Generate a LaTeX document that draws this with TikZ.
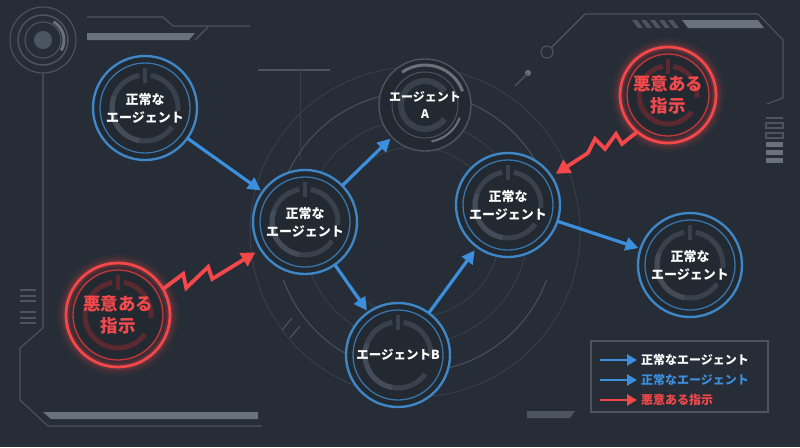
\documentclass[tikz,border=0pt]{standalone}
\usepackage{fontspec}
\setmainfont{Noto Sans CJK JP}
\usetikzlibrary{arrows.meta,calc}
\definecolor{bgc}{HTML}{262D36}
\definecolor{nodefill}{HTML}{222931}
\definecolor{ringblue}{HTML}{3E86C6}
\definecolor{ringblue2}{HTML}{3A74A8}
\definecolor{gaugec}{HTML}{39424C}
\definecolor{gaugel}{HTML}{434C57}
\definecolor{arrowblue}{HTML}{3C8FDD}
\definecolor{redc}{HTML}{F4474A}
\definecolor{redtext}{HTML}{F24A4C}
\definecolor{gaugered}{HTML}{5A2A30}
\definecolor{decoc}{HTML}{4B545F}
\definecolor{decolight}{HTML}{69727C}
\definecolor{faint}{HTML}{363E48}
\newcommand\ringBlue[2]{%
\begin{scope}[shift={(#1)}]
 \fill[nodefill] (0,0) circle[radius=#2];
 \draw[ringblue,line width=2.4pt] (0,0) circle[radius=#2];
 \draw[ringblue2,line width=1.3pt] (0,0) circle[radius={#2-7}];
 \draw[gaugec,line width=5pt] (35:{#2-19}) arc[start angle=35,end angle=260,radius={#2-19}];
 \draw[gaugel,line width=5pt] (100:{#2-19}) arc[start angle=100,end angle=200,radius={#2-19}];
 \draw[gaugec,line width=5pt] (280:{#2-19}) arc[start angle=280,end angle=365,radius={#2-19}];
 \draw[gaugec,line width=4pt] (270:{#2-27}) -- (270:{#2-12});
\end{scope}}
\newcommand\ringRed[2]{%
\begin{scope}[shift={(#1)}]
 \fill[nodefill] (0,0) circle[radius=#2];
 \foreach \w/\o in {18/0.05,12/0.09,7/0.15}
   \draw[redc,opacity=\o,line width=\w pt] (0,0) circle[radius=#2];
 \draw[redc,line width=2.8pt] (0,0) circle[radius=#2];
 \draw[redc!80!black,line width=1.3pt] (0,0) circle[radius={#2-7}];
 \draw[gaugered,line width=5pt] (35:{#2-19}) arc[start angle=35,end angle=260,radius={#2-19}];
 \draw[gaugered,line width=5pt] (280:{#2-19}) arc[start angle=280,end angle=365,radius={#2-19}];
 \draw[gaugered,line width=4pt] (270:{#2-27}) -- (270:{#2-12});
\end{scope}}
\tikzset{
 lbl/.style={circle,inner sep=0pt,align=center,text=white,font=\fontsize{13}{18}\selectfont\bfseries},
 rlbl/.style={circle,inner sep=0pt,align=center,text=redtext,font=\fontsize{17.5}{22}\selectfont\bfseries},
 barrow/.style={arrowblue,line width=3.2pt,-{Triangle[length=13pt,width=13pt]}},
 rarrow/.style={redc,line width=3.8pt,line join=miter,-{Triangle[length=14pt,width=15pt]}},
 deco/.style={decoc,line width=1.1pt},
 legtext/.style={anchor=west,inner sep=0pt,font=\fontsize{12}{14}\selectfont\bfseries}
}
\begin{document}
\begin{tikzpicture}[x=1pt,y=-1pt]
\fill[bgc] (0,0) rectangle (800,447);
\useasboundingbox (0,0) rectangle (800,447);
% background central rings
\begin{scope}[shift={(415,232)}]
 \draw[faint,line width=1pt] (0,0) circle[radius=85];
 \draw[faint,line width=1pt] (0,0) circle[radius=112];
 \draw[decoc,line width=0.9pt] (200:140) arc[start angle=200,end angle=330,radius=140];
 \draw[decoc,line width=0.9pt] (20:140) arc[start angle=20,end angle=160,radius=140];
 \draw[faint,line width=1pt] (0,0) circle[radius=165];
\end{scope}
\draw[deco] (258,70) -- (330,70);
\draw[faint,line width=1pt] (300,70) -- (300,160);
\draw[deco] (282,330) -- (292,318);
\draw[deco] (290,338) -- (300,326);
% top-left gauge
\begin{scope}[shift={(43,40)}]
 \draw[deco] (0,0) circle[radius=33];
 \draw[deco,line width=1.5pt] (0,0) circle[radius=25];
 \draw[decolight,line width=3pt] (-60:21) arc[start angle=-60,end angle=30,radius=21];
 \draw[deco] (0,0) circle[radius=18];
 \fill[decolight!120] (0,0) circle[radius=9];
\end{scope}
\draw[deco] (43,73) -- (43,328) -- (20,348) -- (20,400) -- (48,426) -- (262,426);
\fill[decolight] (43,412) -- (258,412) -- (258,419) -- (51,419) -- cycle;
\foreach \yy in {290,296,301,312,318,323} \draw[deco] (20,\yy) -- (36,\yy);
\draw[deco] (87,17) -- (163,17) -- (173,26) -- (250,26);
\fill[decolight] (87,33) -- (195,33) -- (189,40) -- (87,40) -- cycle;
\draw[deco] (195,40) -- (208,27);
% top-right frame
\draw[deco] (547,52) circle[radius=6];
\draw[deco] (551,48) -- (585,14) -- (758,14) -- (783,40) -- (783,98) -- (767,104);
\fill[decolight] (528,73) circle[radius=3];
\draw[deco] (528,73) -- (515,86);
\foreach \xx in {632,641,650,659,668}
  \fill[decoc] (\xx,20) -- (\xx+5,20) -- (\xx+11,28) -- (\xx+6,28) -- cycle;
\fill[decolight] (682,20) -- (758,20) -- (764,28) -- (688,28) -- cycle;
\draw[deco] (766,118) -- (783,118);
\draw[deco] (766,123) rectangle (783,128);
\draw[deco] (766,133) rectangle (783,138);
\foreach \yy in {142,150,158} \fill[decolight] (766,\yy) rectangle (783,\yy+5);
% bottom-right bar
\fill[decoc] (527,411) -- (575,411) -- (570,418) -- (527,418) -- cycle;
% nodes
\ringBlue{145,108}{52}
\ringBlue{305,222}{52}
\ringBlue{508,205}{52}
\ringBlue{690,265}{52}
\ringBlue{398,355}{52}
\ringRed{118,315}{52}
\ringRed{668,95}{48}
\begin{scope}[shift={(425,105)}]
 \fill[nodefill] (0,0) circle[radius=46];
 \draw[decoc,line width=1.4pt] (0,0) circle[radius=46];
 \draw[decoc,line width=1pt] (0,0) circle[radius=33];
 \draw[decolight,line width=3pt] (-125:40) arc[start angle=-125,end angle=-20,radius=40];
 \draw[decolight,line width=2pt] (20:37) arc[start angle=20,end angle=80,radius=37];
 \draw[gaugec,line width=6pt] (35:24) arc[start angle=35,end angle=325,radius=24];
\end{scope}
\node[lbl,minimum size=104pt] (n1) at (145,108) {正常な\\エージェント};
\node[lbl,minimum size=104pt] (n2) at (305,222) {正常な\\エージェント};
\node[lbl,minimum size=104pt] (n3) at (508,205) {正常な\\エージェント};
\node[lbl,minimum size=104pt] (n4) at (690,265) {正常な\\エージェント};
\node[lbl,minimum size=92pt,font=\fontsize{12}{17}\selectfont\bfseries] (a) at (425,105) {エージェント\\A};
\node[lbl,minimum size=104pt,font=\fontsize{12.5}{17}\selectfont\bfseries] (b) at (398,355) {エージェントB};
\node[rlbl,minimum size=104pt] (m1) at (118,315) {悪意ある\\指示};
\node[rlbl,minimum size=96pt] (m2) at (668,95) {悪意ある\\指示};
% blue arrows
\draw[barrow,shorten >=2pt] (n1) -- (n2);
\draw[barrow,shorten >=2pt] (n2) -- (a);
\draw[barrow,shorten >=2pt] (n2) -- (b);
\draw[barrow,shorten >=4pt] (b) -- (n3);
\draw[barrow,shorten >=2pt] (n3) -- (n4);
% red zigzag arrows
\draw[rarrow,shorten >=6pt] (m1.30) -- ++(20,-15) -- ++(3,14) -- ++(22,-21) -- ++(4,12) -- (n2);
\draw[rarrow,shorten >=5pt] (m2.230) -- ++(-15,12) -- ++(-6,-10) -- ++(-11,15) -- ++(-10,-10) -- ++(-7,14) -- (n3);
% legend
\draw[decoc,line width=1.1pt] (591,341) rectangle (768,412);
\coordinate (l1a) at (600,360); \coordinate (l1b) at (637,360);
\coordinate (l2a) at (600,380); \coordinate (l2b) at (637,380);
\coordinate (l3a) at (600,400); \coordinate (l3b) at (637,400);
\draw[arrowblue,line width=2.8pt,-{Triangle[length=10pt,width=11pt]}] (l1a) -- (l1b);
\draw[arrowblue,line width=2.8pt,-{Triangle[length=10pt,width=11pt]}] (l2a) -- (l2b);
\draw[redc,line width=2.8pt,-{Triangle[length=10pt,width=11pt]}] (l3a) -- (l3b);
\node[legtext,text=white] (t1) at (641,360) {正常なエージェント};
\node[legtext,text=arrowblue] (t2) at (641,380) {正常なエージェント};
\node[legtext,text=redc] (t3) at (641,400) {悪意ある指示};
\end{tikzpicture}
\end{document}
